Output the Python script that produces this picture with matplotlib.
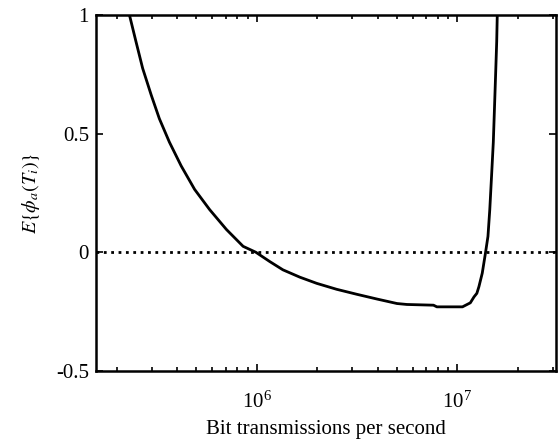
import matplotlib
matplotlib.use('Agg')
import matplotlib.pyplot as plt

# curve
bit_rate = [2.32e5, 2.50e5, 2.70e5, 2.98e5, 3.27e5, 3.67e5, 4.20e5, 4.90e5, 5.82e5,
            7.06e5, 8.55e5, 9.9e5, 1.16e6, 1.35e6, 1.64e6, 1.99e6, 2.50e6, 3.15e6,
            3.97e6, 5.0e6, 5.6e6, 7.6e6, 7.9e6, 1.06e7, 1.16e7, 1.21e7, 1.25e7,
            1.28e7, 1.33e7, 1.38e7, 1.42e7, 1.45e7, 1.48e7, 1.51e7, 1.53e7,
            1.55e7, 1.57e7, 1.58e7]
e_phi = [1.0, 0.888, 0.775, 0.662, 0.563, 0.464, 0.364, 0.265, 0.180,
         0.096, 0.025, 0.0, -0.039, -0.074, -0.105, -0.131, -0.156, -0.177,
         -0.197, -0.216, -0.220, -0.223, -0.230, -0.230, -0.213, -0.188, -0.173,
         -0.145, -0.088, -0.003, 0.067, 0.180, 0.322, 0.464, 0.605,
         0.746, 0.888, 1.0]
y_ticks = [-0.5, 0, 0.5, 1]
y_tick_labels = ['-0.5', '0', '0.5', '1']

plt.rcParams['font.family'] = ['Liberation Serif', 'DejaVu Serif']
plt.rcParams['mathtext.fontset'] = 'stix'

fig = plt.figure(figsize=(5.58, 4.4), dpi=100)
ax = fig.add_axes([0.172, 0.157, 0.8244, 0.809])

ax.semilogx(bit_rate, e_phi, color='black', linewidth=2)
ax.axhline(0, color='black', linestyle=':', linewidth=2)

ax.set_xlim(1.58e5, 3.1e7)
ax.set_ylim(-0.5, 1)
ax.set_yticks(y_ticks)
ax.set_yticklabels(y_tick_labels)

ax.tick_params(which='both', direction='in', top=True, right=True, labelsize=15)
ax.tick_params(axis='y', pad=5)
ax.tick_params(axis='x', pad=15)
ax.tick_params(which='major', length=5, width=1.2)
ax.tick_params(which='minor', length=3, width=1.2)
for s in ax.spines.values():
    s.set_linewidth(1.8)

ax.set_xlabel('Bit transmissions per second', fontsize=15, labelpad=5)
ax.set_ylabel(r'$E\{\phi_a(T_i)\}$', fontsize=14.5, labelpad=10)

plt.savefig('out.png', dpi=100)
plt.close()
